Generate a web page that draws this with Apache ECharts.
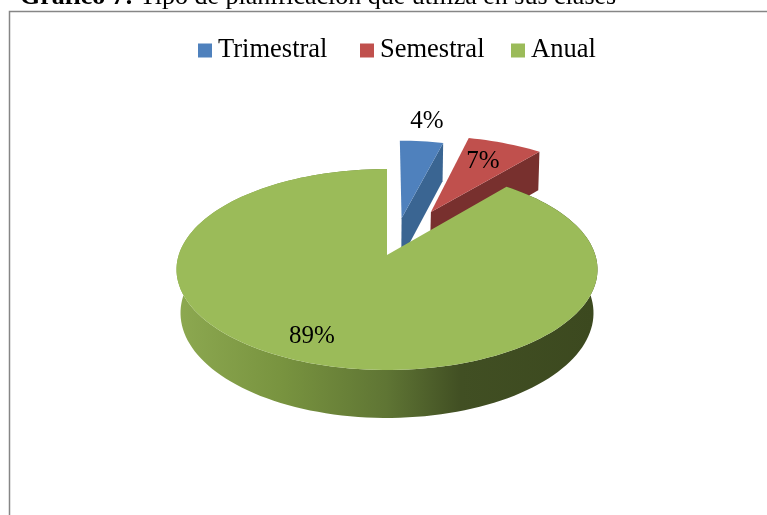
<!DOCTYPE html>
<html>
<head>
<meta charset="utf-8">
<title>Gráfico 7</title>
<script src="https://cdn.jsdelivr.net/npm/echarts@6/dist/echarts.min.js"></script>
<style>
html, body { margin: 0; padding: 0; background: #fff; overflow: hidden; }
#chart { width: 767px; height: 515px; }
</style>
</head>
<body>
<div id="chart"></div>
<script>
// datos
var categories = ['Trimestral', 'Semestral', 'Anual'];
var values = [4, 7, 89];

// colores: cara superior y corte de cada porcion
var faceColors = ['#4f81bd', '#c0504d', '#9bbb59'];
var cutColors = ['#3a6592', '#78302e', null];

// separacion de cada porcion, en radios del circulo
var explode = [[0.074, -0.395], [0.225, -0.466], [0, 0]];
var labelPos = [[427, 121], [483, 161], [312, 336]];
var legendLeft = [198, 360, 511];

var total = values.reduce(function(a, b) { return a + b; }, 0);

// proyeccion en perspectiva del plano superior y del inferior del pastel
var cx = 387;
var planes = [
	{ rx: 208.3, a: 61.6, b: 255, c: -0.1443 },
	{ rx: 204.1, a: 57.4, b: 297, c: -0.152 }
];
var project = function(u, v, level) {
	var p = planes[level];
	var d = 1 + p.c * v;
	return [cx + p.rx * u / d, (p.a * v + p.b) / d];
};

// angulo 0 a las 12, sentido horario
var rimPoint = function(deg, off, level) {
	var t = deg * Math.PI / 180;
	var ou = level ? off[0] * 1.08 : off[0];
	return project(Math.sin(t) + ou, -Math.cos(t) + off[1], level);
};

var rim = function(from, to, off, level) {
	var pts = [];
	var n = Math.ceil(Math.abs(to - from) / 2);
	for (var i = 0; i <= n; i++) {
		pts.push(rimPoint(from + (to - from) * i / n, off, level));
	}
	return pts;
};

var wallGradient = new echarts.graphic.LinearGradient(180, 0, 593, 0, [
	{ offset: 0, color: '#8ca850' },
	{ offset: 0.25, color: '#78933f' },
	{ offset: 0.5, color: '#5f7534' },
	{ offset: 0.68, color: '#414f23' },
	{ offset: 1, color: '#3c491f' }
], true);

var renderSlice = function(index) {
	return function(params, api) {
		var before = 0;
		for (var i = 0; i < index; i++) before += values[i];
		var from = before / total * 360;
		var to = (before + api.value(0)) / total * 360;
		var off = explode[index];
		var children = [];

		if (cutColors[index]) {
			// corte visible
			children.push({
				type: 'polygon',
				shape: { points: [
					project(off[0], off[1], 0),
					rimPoint(to, off, 0),
					rimPoint(to, off, 1),
					project(off[0], off[1], 1)
				] },
				style: { fill: cutColors[index] }
			});
		} else {
			// pared exterior
			children.push({
				type: 'polygon',
				shape: { points: rim(from, to, off, 0).concat(rim(to, from, off, 1)) },
				style: { fill: wallGradient }
			});
		}

		children.push({
			type: 'polygon',
			shape: { points: [project(off[0], off[1], 0)].concat(rim(from, to, off, 0)) },
			style: { fill: faceColors[index] }
		});

		children.push({
			type: 'text',
			x: labelPos[index][0],
			y: labelPos[index][1],
			style: {
				text: Math.round(api.value(0) / total * 100) + '%',
				fill: '#000',
				font: '25px "Liberation Serif"',
				align: 'center',
				verticalAlign: 'middle'
			}
		});

		return { type: 'group', children: children };
	};
};

var series = [];
var legends = [];
for (var k = 0; k < categories.length; k++) {
	series.push({
		name: categories[k],
		type: 'custom',
		coordinateSystem: 'none',
		animation: false,
		silent: true,
		itemStyle: { color: faceColors[k] },
		data: [values[k]],
		renderItem: renderSlice(k)
	});
	legends.push({
		left: legendLeft[k],
		top: 37,
		padding: 0,
		itemWidth: 14,
		itemHeight: 14,
		icon: 'rect',
		selectedMode: false,
		data: [categories[k]],
		textStyle: { fontFamily: 'Liberation Serif', fontSize: 26.5, color: '#000', padding: [1, 0, 0, 1] }
	});
}

var myChart = echarts.init(document.getElementById('chart'));
myChart.setOption({
	animation: false,
	color: faceColors,
	title: {
		left: 20,
		top: -16,
		padding: 0,
		text: '{b|Gráfico 7:} Tipo de planificación que utiliza en sus clases',
		textStyle: {
			fontFamily: 'Liberation Serif',
			fontSize: 26,
			fontWeight: 'normal',
			color: '#000',
			rich: {
				b: { fontFamily: 'Liberation Serif', fontSize: 26, fontWeight: 'bold', color: '#000' }
			}
		}
	},
	legend: legends,
	graphic: [{
		type: 'rect',
		z: -1,
		silent: true,
		shape: { x: 9.5, y: 11.5, width: 800, height: 600 },
		style: { fill: 'none', stroke: '#868686', lineWidth: 1.5 }
	}],
	series: series
});
</script>
</body>
</html>
